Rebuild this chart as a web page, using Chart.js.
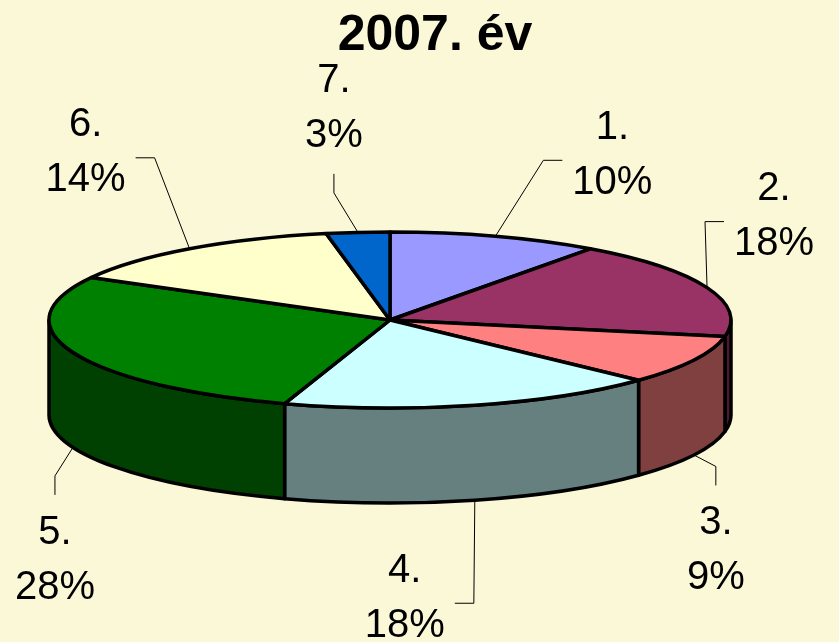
<!DOCTYPE html>
<html>
<head>
<meta charset="utf-8">
<script src="https://cdn.jsdelivr.net/npm/chart.js@4.4.0/dist/chart.umd.min.js"></script>
<style>
  html, body { margin: 0; padding: 0; background: #FBF8D7; }
  canvas { display: block; }
</style>
</head>
<body>
<canvas id="pie" width="839" height="642"></canvas>
<script>
// data
const categories = ['1.', '2.', '3.', '4.', '5.', '6.', '7.'];
const shares = [10, 18, 9, 18, 28, 14, 3];
const titleText = '2007. év';

// styles
const BG = '#FBF8D7';
const topColors = ['#9999FF', '#993366', '#FF8080', '#CCFFFF', '#008000', '#FFFFCC', '#0066CC'];
const sideColors = ['#4D4D80', '#4D1A33', '#804040', '#668080', '#004000', '#808066', '#003366'];
// where each label block sits relative to its rim anchor
const labelOffsets = [[117, -81], [67, -71], [22, 96], [-70, 98], [-18, 113], [-104, -96], [-24, -124]];
const FONT = '"Liberation Sans", Arial, sans-serif';

// fake 3d projection of the pie
const CX = 390, CY = 320, RX = 341, RY = 88, DEPTH = 95;

const pie3d = {
  id: 'pie3d',
  beforeDraw(chart) {
    const c = chart.ctx;
    c.save();
    c.fillStyle = BG;
    c.fillRect(0, 0, chart.width, chart.height);
    c.restore();
  },
  beforeDatasetsDraw(chart) {
    const ctx = chart.ctx;
    const arcs = chart.getDatasetMeta(0).data;
    const total = shares.reduce((s, v) => s + v, 0);
    ctx.save();
    ctx.lineJoin = 'round';
    ctx.lineWidth = 3.5;
    ctx.strokeStyle = '#000';

    // outer walls (front half only)
    arcs.forEach((arc, i) => {
      const s = Math.max(arc.startAngle, 0);
      const e = Math.min(arc.endAngle, Math.PI);
      if (s >= e) return;
      ctx.beginPath();
      ctx.ellipse(CX, CY, RX, RY, 0, s, e);
      ctx.lineTo(CX + RX * Math.cos(e), CY + DEPTH + RY * Math.sin(e));
      ctx.ellipse(CX, CY + DEPTH, RX, RY, 0, e, s, true);
      ctx.closePath();
      ctx.fillStyle = sideColors[i];
      ctx.fill();
      ctx.stroke();
    });

    // top faces
    arcs.forEach((arc, i) => {
      ctx.beginPath();
      ctx.moveTo(CX, CY);
      ctx.ellipse(CX, CY, RX, RY, 0, arc.startAngle, arc.endAngle);
      ctx.closePath();
      ctx.fillStyle = topColors[i];
      ctx.fill();
      ctx.stroke();
    });

    // labels + leader lines
    ctx.font = '40px ' + FONT;
    ctx.textAlign = 'center';
    ctx.textBaseline = 'middle';
    arcs.forEach((arc, i) => {
      const m = (arc.startAngle + arc.endAngle) / 2;
      const ax = CX + RX * Math.cos(m);
      const ay = CY + RY * Math.sin(m) + (Math.sin(m) > 0 ? DEPTH : 0);
      const bx = ax + labelOffsets[i][0];
      const by = ay + labelOffsets[i][1];
      const pct = Math.round(shares[i] / total * 100) + '%';
      const halfW = Math.max(ctx.measureText(categories[i]).width, ctx.measureText(pct).width) / 2;

      let ex, ey, kx, ky;
      if (Math.abs(labelOffsets[i][0]) > 40) {
        const dir = ax < bx ? -1 : 1;
        ex = bx + dir * (halfW + 10);
        ey = by + 5;
        kx = ex + dir * 19;
        ky = ey;
      } else {
        const dir = ay < by ? -1 : 1;
        ex = bx;
        ey = by + dir * (43.5 + 22);
        kx = ex;
        ky = ey + dir * 19;
      }
      ctx.beginPath();
      ctx.lineWidth = 1;
      ctx.moveTo(ax, ay);
      ctx.lineTo(kx, ky);
      ctx.lineTo(ex, ey);
      ctx.stroke();

      ctx.fillStyle = '#000';
      ctx.fillText(categories[i], bx, by - 27.5);
      ctx.fillText(pct, bx, by + 27.5);
    });

    ctx.restore();
    return false;
  }
};

new Chart(document.getElementById('pie'), {
  type: 'pie',
  data: {
    labels: categories,
    datasets: [{ data: shares, backgroundColor: topColors }]
  },
  options: {
    responsive: false,
    animation: false,
    devicePixelRatio: 1,
    layout: { padding: { left: 31 } },
    plugins: {
      legend: { display: false },
      tooltip: { enabled: false },
      title: {
        display: true,
        text: titleText,
        color: '#000',
        font: { family: FONT, size: 50, weight: 'bold' },
        padding: { top: 6, bottom: 10 }
      }
    }
  },
  plugins: [pie3d]
});
</script>
</body>
</html>
